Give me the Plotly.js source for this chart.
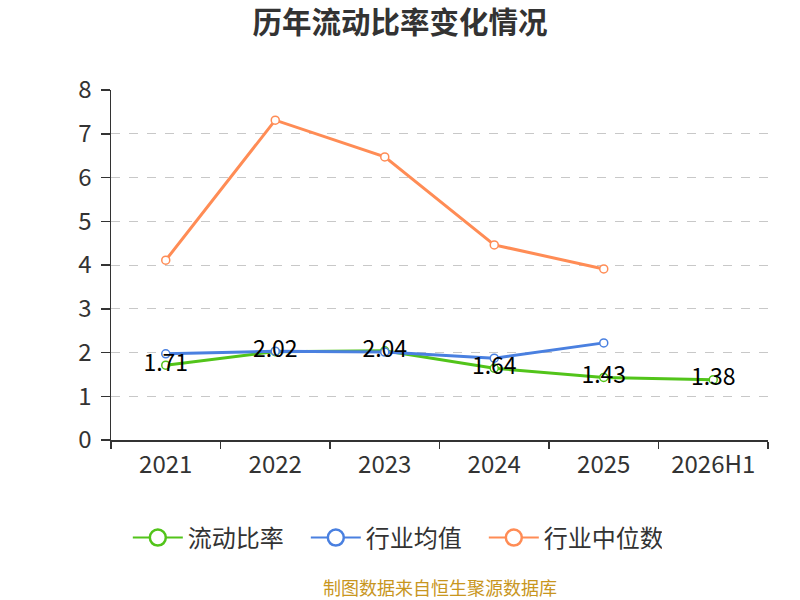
<!DOCTYPE html>
<html>
<head>
<meta charset="utf-8">
<script src="https://cdn.plot.ly/plotly-3.0.1.min.js"></script>
<style>
  body { margin: 0; background: #fff; }
  #chart { width: 800px; height: 600px; }
</style>
</head>
<body>
<div id="chart"></div>
<script>
// categories and values
var years = ['2021', '2022', '2023', '2024', '2025', '2026H1'];
var currentRatio = [1.71, 2.02, 2.04, 1.64, 1.43, 1.38];
var industryMean = [1.97, 2.03, 2.01, 1.87, 2.22, null];
var industryMedian = [4.11, 7.31, 6.47, 4.46, 3.91, null];
var ratioLabels = ['1.71', '2.02', '2.04', '1.64', '1.43', '1.38'];
var seriesNames = ['流动比率', '行业均值', '行业中位数'];
var seriesColors = ['#52c41a', '#4a80e0', '#ff8c55'];

var fontFamily = '"Noto Sans CJK SC", "Noto Sans", sans-serif';

function series(i, y) {
  return {
    x: years,
    y: y,
    name: seriesNames[i],
    type: 'scatter',
    mode: 'lines+markers',
    line: {color: seriesColors[i], width: 3},
    marker: {symbol: 'circle', size: 8, color: '#fff', line: {color: seriesColors[i], width: 1.5}},
    showlegend: false,
    cliponaxis: false,
    hoverinfo: 'skip'
  };
}

// legend-only entries so the legend circles can be drawn larger
function legendEntry(i) {
  return {
    x: [null],
    y: [null],
    name: seriesNames[i],
    type: 'scatter',
    mode: 'lines+markers',
    line: {color: seriesColors[i], width: 2},
    marker: {symbol: 'circle', size: 16, color: '#fff', line: {color: seriesColors[i], width: 2.5}},
    hoverinfo: 'skip'
  };
}

var data = [
  series(0, currentRatio),
  series(1, industryMean),
  series(2, industryMedian),
  {
    // value labels on top of everything
    x: years,
    y: currentRatio,
    type: 'scatter',
    mode: 'text',
    text: ratioLabels,
    textposition: 'middle center',
    textfont: {family: fontFamily, size: 23, color: '#000'},
    showlegend: false,
    cliponaxis: false,
    hoverinfo: 'skip'
  },
  legendEntry(0),
  legendEntry(1),
  legendEntry(2)
];

var layout = {
  width: 800,
  height: 600,
  margin: {l: 111, r: 32, t: 90, b: 160},
  paper_bgcolor: '#fff',
  plot_bgcolor: '#fff',
  font: {family: fontFamily, color: '#333'},
  title: {
    text: '<b>历年流动比率变化情况</b>',
    font: {family: fontFamily, size: 29.5, color: '#333'},
    x: 0.5,
    xanchor: 'center',
    y: 0.963,
    yanchor: 'middle'
  },
  xaxis: {
    type: 'category',
    range: [-0.5, 5.5],
    tickson: 'boundaries',
    ticks: 'outside',
    ticklen: 7,
    tickcolor: '#333',
    tickwidth: 1.5,
    ticklabelstandoff: 3,
    showline: true,
    linecolor: '#333',
    linewidth: 1.5,
    showgrid: false,
    tickfont: {size: 24, color: '#333'},
    fixedrange: true
  },
  yaxis: {
    range: [0, 8],
    dtick: 1,
    ticks: 'outside',
    ticklen: 9,
    tickcolor: '#333',
    tickwidth: 1.5,
    ticklabelstandoff: 4,
    showline: true,
    linecolor: '#333',
    linewidth: 1.5,
    gridcolor: '#c8c8c8',
    griddash: 'dash',
    gridwidth: 1,
    zeroline: false,
    tickfont: {size: 24, color: '#333'},
    fixedrange: true
  },
  showlegend: true,
  legend: {
    orientation: 'h',
    x: 0.432,
    xanchor: 'center',
    y: -0.28,
    yanchor: 'middle',
    font: {size: 24, color: '#333'},
    itemwidth: 50,
    entrywidth: 113,
    traceorder: 'normal'
  },
  annotations: [{
    text: '制图数据来自恒生聚源数据库',
    xref: 'paper',
    yref: 'paper',
    x: 0.5,
    y: -0.421,
    xanchor: 'center',
    yanchor: 'middle',
    showarrow: false,
    font: {family: fontFamily, size: 18, color: '#c8961e'}
  }]
};

Plotly.newPlot('chart', data, layout, {displayModeBar: false, staticPlot: true});
</script>
</body>
</html>
